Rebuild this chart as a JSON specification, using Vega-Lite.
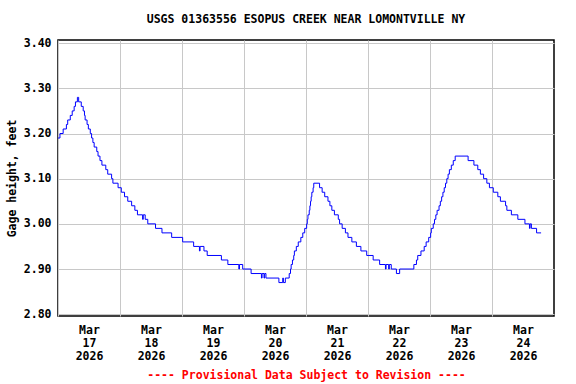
{
  "$schema": "https://vega.github.io/schema/vega-lite/v6.json",
  "autosize": "none",
  "width": 496,
  "height": 276,
  "padding": {"left": 58, "top": 40, "right": 22, "bottom": 68},
  "background": "white",
  "title": {
    "text": "USGS 01363556 ESOPUS CREEK NEAR LOMONTVILLE NY",
    "font": "DejaVu Sans Mono",
    "fontSize": 11.5,
    "fontWeight": "bold",
    "color": "black",
    "anchor": "middle",
    "offset": 12
  },
  "config": {
    "view": {"stroke": "black", "strokeWidth": 1.5},
    "axis": {
      "labelFont": "DejaVu Sans Mono",
      "labelFontSize": 11.5,
      "labelFontWeight": "bold",
      "labelColor": "black",
      "titleFont": "DejaVu Sans Mono",
      "titleFontSize": 11.5,
      "titleFontWeight": "bold",
      "titleColor": "black",
      "gridColor": "#c8c8c8",
      "gridWidth": 1,
      "gridOpacity": 1,
      "ticks": false,
      "domain": false
    }
  },
  "data": {
    "values": [
      {"t": "2026-03-17T00:00", "v": 3.19},
      {"t": "2026-03-17T00:45", "v": 3.20},
      {"t": "2026-03-17T02:00", "v": 3.21},
      {"t": "2026-03-17T03:15", "v": 3.22},
      {"t": "2026-03-17T03:45", "v": 3.23},
      {"t": "2026-03-17T04:45", "v": 3.24},
      {"t": "2026-03-17T05:30", "v": 3.25},
      {"t": "2026-03-17T06:15", "v": 3.26},
      {"t": "2026-03-17T06:45", "v": 3.27},
      {"t": "2026-03-17T07:30", "v": 3.28},
      {"t": "2026-03-17T08:00", "v": 3.27},
      {"t": "2026-03-17T09:00", "v": 3.26},
      {"t": "2026-03-17T09:45", "v": 3.25},
      {"t": "2026-03-17T10:15", "v": 3.24},
      {"t": "2026-03-17T10:30", "v": 3.23},
      {"t": "2026-03-17T11:15", "v": 3.22},
      {"t": "2026-03-17T11:45", "v": 3.21},
      {"t": "2026-03-17T12:30", "v": 3.20},
      {"t": "2026-03-17T13:00", "v": 3.19},
      {"t": "2026-03-17T13:30", "v": 3.18},
      {"t": "2026-03-17T14:00", "v": 3.17},
      {"t": "2026-03-17T15:00", "v": 3.16},
      {"t": "2026-03-17T15:30", "v": 3.15},
      {"t": "2026-03-17T16:15", "v": 3.14},
      {"t": "2026-03-17T17:00", "v": 3.13},
      {"t": "2026-03-17T18:30", "v": 3.12},
      {"t": "2026-03-17T19:15", "v": 3.11},
      {"t": "2026-03-17T20:45", "v": 3.10},
      {"t": "2026-03-17T21:15", "v": 3.09},
      {"t": "2026-03-17T23:15", "v": 3.08},
      {"t": "2026-03-18T00:30", "v": 3.07},
      {"t": "2026-03-18T01:45", "v": 3.06},
      {"t": "2026-03-18T03:00", "v": 3.05},
      {"t": "2026-03-18T04:30", "v": 3.04},
      {"t": "2026-03-18T05:45", "v": 3.03},
      {"t": "2026-03-18T06:45", "v": 3.02},
      {"t": "2026-03-18T08:45", "v": 3.01},
      {"t": "2026-03-18T09:00", "v": 3.02},
      {"t": "2026-03-18T09:45", "v": 3.01},
      {"t": "2026-03-18T10:45", "v": 3.00},
      {"t": "2026-03-18T13:45", "v": 2.99},
      {"t": "2026-03-18T16:15", "v": 2.98},
      {"t": "2026-03-18T20:00", "v": 2.97},
      {"t": "2026-03-19T00:15", "v": 2.96},
      {"t": "2026-03-19T04:30", "v": 2.95},
      {"t": "2026-03-19T06:45", "v": 2.94},
      {"t": "2026-03-19T07:00", "v": 2.95},
      {"t": "2026-03-19T08:30", "v": 2.94},
      {"t": "2026-03-19T09:45", "v": 2.93},
      {"t": "2026-03-19T15:15", "v": 2.92},
      {"t": "2026-03-19T17:45", "v": 2.91},
      {"t": "2026-03-19T22:00", "v": 2.90},
      {"t": "2026-03-19T22:15", "v": 2.91},
      {"t": "2026-03-19T23:30", "v": 2.90},
      {"t": "2026-03-20T02:45", "v": 2.89},
      {"t": "2026-03-20T06:45", "v": 2.88},
      {"t": "2026-03-20T07:00", "v": 2.89},
      {"t": "2026-03-20T07:45", "v": 2.88},
      {"t": "2026-03-20T08:00", "v": 2.89},
      {"t": "2026-03-20T08:30", "v": 2.88},
      {"t": "2026-03-20T13:30", "v": 2.87},
      {"t": "2026-03-20T15:00", "v": 2.88},
      {"t": "2026-03-20T15:15", "v": 2.87},
      {"t": "2026-03-20T16:00", "v": 2.88},
      {"t": "2026-03-20T17:30", "v": 2.89},
      {"t": "2026-03-20T18:00", "v": 2.90},
      {"t": "2026-03-20T18:15", "v": 2.91},
      {"t": "2026-03-20T18:45", "v": 2.92},
      {"t": "2026-03-20T19:15", "v": 2.93},
      {"t": "2026-03-20T19:30", "v": 2.94},
      {"t": "2026-03-20T20:15", "v": 2.95},
      {"t": "2026-03-20T21:00", "v": 2.96},
      {"t": "2026-03-20T22:00", "v": 2.97},
      {"t": "2026-03-20T22:45", "v": 2.98},
      {"t": "2026-03-20T23:30", "v": 2.99},
      {"t": "2026-03-21T00:15", "v": 3.00},
      {"t": "2026-03-21T00:30", "v": 3.01},
      {"t": "2026-03-21T00:45", "v": 3.02},
      {"t": "2026-03-21T01:15", "v": 3.03},
      {"t": "2026-03-21T01:30", "v": 3.04},
      {"t": "2026-03-21T01:45", "v": 3.05},
      {"t": "2026-03-21T02:00", "v": 3.06},
      {"t": "2026-03-21T02:15", "v": 3.07},
      {"t": "2026-03-21T02:45", "v": 3.08},
      {"t": "2026-03-21T03:00", "v": 3.09},
      {"t": "2026-03-21T05:15", "v": 3.08},
      {"t": "2026-03-21T06:15", "v": 3.07},
      {"t": "2026-03-21T07:15", "v": 3.06},
      {"t": "2026-03-21T08:30", "v": 3.05},
      {"t": "2026-03-21T09:15", "v": 3.04},
      {"t": "2026-03-21T10:00", "v": 3.03},
      {"t": "2026-03-21T11:00", "v": 3.02},
      {"t": "2026-03-21T12:30", "v": 3.01},
      {"t": "2026-03-21T13:00", "v": 3.00},
      {"t": "2026-03-21T14:00", "v": 2.99},
      {"t": "2026-03-21T15:15", "v": 2.98},
      {"t": "2026-03-21T16:15", "v": 2.97},
      {"t": "2026-03-21T17:45", "v": 2.96},
      {"t": "2026-03-21T19:30", "v": 2.95},
      {"t": "2026-03-21T21:15", "v": 2.94},
      {"t": "2026-03-21T23:30", "v": 2.93},
      {"t": "2026-03-22T02:00", "v": 2.92},
      {"t": "2026-03-22T04:30", "v": 2.91},
      {"t": "2026-03-22T06:45", "v": 2.90},
      {"t": "2026-03-22T07:00", "v": 2.91},
      {"t": "2026-03-22T08:00", "v": 2.90},
      {"t": "2026-03-22T08:15", "v": 2.91},
      {"t": "2026-03-22T09:00", "v": 2.90},
      {"t": "2026-03-22T11:00", "v": 2.89},
      {"t": "2026-03-22T12:15", "v": 2.90},
      {"t": "2026-03-22T17:45", "v": 2.91},
      {"t": "2026-03-22T18:45", "v": 2.92},
      {"t": "2026-03-22T19:15", "v": 2.93},
      {"t": "2026-03-22T20:30", "v": 2.94},
      {"t": "2026-03-22T21:45", "v": 2.95},
      {"t": "2026-03-22T22:30", "v": 2.96},
      {"t": "2026-03-22T23:30", "v": 2.97},
      {"t": "2026-03-23T00:15", "v": 2.98},
      {"t": "2026-03-23T00:30", "v": 2.99},
      {"t": "2026-03-23T01:15", "v": 3.00},
      {"t": "2026-03-23T01:45", "v": 3.01},
      {"t": "2026-03-23T02:15", "v": 3.02},
      {"t": "2026-03-23T02:45", "v": 3.03},
      {"t": "2026-03-23T03:30", "v": 3.04},
      {"t": "2026-03-23T04:00", "v": 3.05},
      {"t": "2026-03-23T04:30", "v": 3.06},
      {"t": "2026-03-23T05:00", "v": 3.07},
      {"t": "2026-03-23T05:30", "v": 3.08},
      {"t": "2026-03-23T06:00", "v": 3.09},
      {"t": "2026-03-23T06:30", "v": 3.10},
      {"t": "2026-03-23T07:00", "v": 3.11},
      {"t": "2026-03-23T07:30", "v": 3.12},
      {"t": "2026-03-23T08:15", "v": 3.13},
      {"t": "2026-03-23T09:00", "v": 3.14},
      {"t": "2026-03-23T09:45", "v": 3.15},
      {"t": "2026-03-23T14:45", "v": 3.14},
      {"t": "2026-03-23T17:00", "v": 3.13},
      {"t": "2026-03-23T18:30", "v": 3.12},
      {"t": "2026-03-23T19:30", "v": 3.11},
      {"t": "2026-03-23T20:45", "v": 3.10},
      {"t": "2026-03-23T22:00", "v": 3.09},
      {"t": "2026-03-23T23:00", "v": 3.08},
      {"t": "2026-03-24T00:30", "v": 3.07},
      {"t": "2026-03-24T02:15", "v": 3.06},
      {"t": "2026-03-24T03:15", "v": 3.05},
      {"t": "2026-03-24T05:15", "v": 3.04},
      {"t": "2026-03-24T05:45", "v": 3.03},
      {"t": "2026-03-24T07:30", "v": 3.02},
      {"t": "2026-03-24T10:00", "v": 3.01},
      {"t": "2026-03-24T12:45", "v": 3.00},
      {"t": "2026-03-24T14:30", "v": 2.99},
      {"t": "2026-03-24T14:45", "v": 3.00},
      {"t": "2026-03-24T15:15", "v": 2.99},
      {"t": "2026-03-24T17:15", "v": 2.98},
      {"t": "2026-03-24T19:00", "v": 2.98}
    ]
  },
  "mark": {"type": "line", "interpolate": "step-after", "color": "#0000ff", "strokeWidth": 1},
  "encoding": {
    "x": {
      "field": "t",
      "type": "temporal",
      "scale": {
        "domain": [
          {"year": 2026, "month": 3, "date": 17},
          {"year": 2026, "month": 3, "date": 25}
        ]
      },
      "axis": {
        "values": [
          {"year": 2026, "month": 3, "date": 17},
          {"year": 2026, "month": 3, "date": 18},
          {"year": 2026, "month": 3, "date": 19},
          {"year": 2026, "month": 3, "date": 20},
          {"year": 2026, "month": 3, "date": 21},
          {"year": 2026, "month": 3, "date": 22},
          {"year": 2026, "month": 3, "date": 23},
          {"year": 2026, "month": 3, "date": 24}
        ],
        "labelExpr": "[timeFormat(datum.value, '%b'), timeFormat(datum.value, '%d'), timeFormat(datum.value, '%Y')]",
        "labelOffset": 31,
        "labelAlign": "center",
        "labelFlush": false,
        "labelOverlap": false,
        "labelLineHeight": 13,
        "labelPadding": 8,
        "grid": true,
        "title": "---- Provisional Data Subject to Revision ----",
        "titleColor": "#ff0000",
        "titlePadding": 8
      }
    },
    "y": {
      "field": "v",
      "type": "quantitative",
      "scale": {"domain": [2.796, 3.407], "nice": false, "zero": false},
      "axis": {
        "values": [2.8, 2.9, 3.0, 3.1, 3.2, 3.3, 3.4],
        "format": ".2f",
        "labelPadding": 7,
        "grid": true,
        "title": "Gage height, feet",
        "titlePadding": 6
      }
    }
  }
}
